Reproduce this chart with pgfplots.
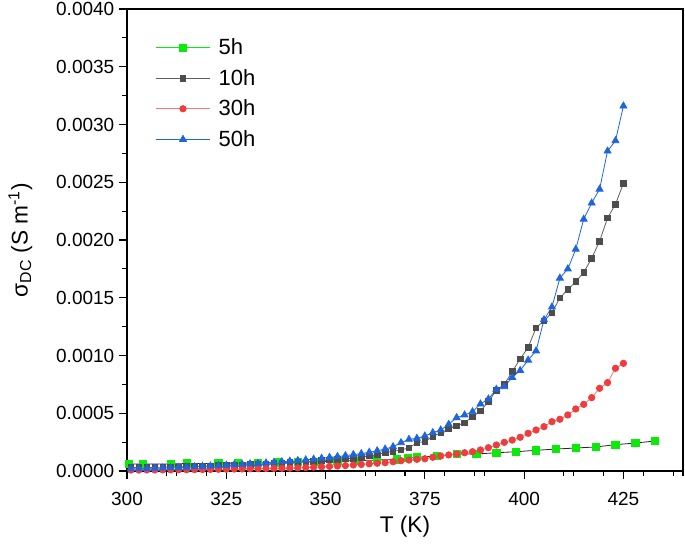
\documentclass[border=0pt]{standalone}
\usepackage{fontspec}
\setmainfont{Liberation Sans}
\usepackage{pgfplots}
\usepackage{pgfplotstable}
\pgfplotsset{compat=1.18}
\definecolor{cgreen}{RGB}{10,235,10}
\definecolor{cgray}{RGB}{77,77,77}
\definecolor{cgrayline}{RGB}{95,95,95}
\definecolor{cred}{RGB}{240,60,60}
\definecolor{credline}{RGB}{245,120,120}
\definecolor{cblue}{RGB}{30,100,220}

\pgfplotstableread{
T v
300.5 0.00006
304 0.00006
311 0.00006
315 0.000065
323 0.000065
328 0.00007
333 0.00007
338 0.000075
343 0.00008
348 0.00008
353 0.000085
358 0.00009
363 0.000095
368 0.0001
370.7 0.00011
373 0.000119
378 0.00013
383 0.000147
388 0.000147
393 0.000158
398 0.000167
403 0.000179
408 0.00019
413 0.000199
418 0.000208
423 0.000228
428 0.000242
433 0.00026
}\tabfive

\pgfplotstableread{
T v
301 0.00003
303 0.00003
305 0.00003
307 0.000032
309 0.000033
311 0.000035
313 0.000037
315 0.000038
317 0.00004
319 0.000042
321 0.000044
323 0.000046
325 0.000048
327 0.00005
329 0.000053
331 0.000055
333 0.000058
335 0.00006
337 0.000064
339 0.000068
341 0.000072
343 0.000076
345 0.00008
347 0.000085
349 0.00009
351 0.000095
353 0.0001
355 0.000106
357 0.00011
359 0.00012
361 0.00013
363 0.00014
365 0.00016
367 0.00017
369 0.000182
371 0.0002
373 0.000245
375 0.000254
377 0.0003
379 0.00033
381 0.000364
383 0.00039
385 0.000418
387 0.00047
389 0.00052
391 0.0006
393 0.0007
395 0.00075
397 0.00086
399 0.00097
401 0.00107
403 0.00124
405 0.0013
407 0.00137
409 0.0015
411 0.00157
413 0.00164
415 0.00172
417 0.00184
419 0.00199
421 0.00219
423 0.00231
425 0.00249
}\tabten

\pgfplotstableread{
T v
301 0.000008
303 0.000008
305 0.000009
307 0.000009
309 0.00001
311 0.00001
313 0.000011
315 0.000011
317 0.000012
319 0.000013
321 0.000014
323 0.000015
325 0.000016
327 0.000017
329 0.000018
331 0.00002
333 0.000021
335 0.000022
337 0.000023
339 0.000024
341 0.000025
343 0.000027
345 0.00003
347 0.000033
349 0.000036
351 0.00004
353 0.000043
355 0.000047
357 0.000052
359 0.000057
361 0.000062
363 0.000067
365 0.000072
367 0.00008
369 0.000089
371 0.000095
373 0.000101
375 0.000106
377 0.000119
379 0.00013
381 0.000139
383 0.000147
385 0.000158
387 0.000167
389 0.000182
391 0.000202
393 0.000225
395 0.000248
397 0.000268
399 0.000292
401 0.000326
403 0.000355
405 0.000384
407 0.000427
409 0.000448
411 0.000485
413 0.000537
415 0.000577
417 0.000635
419 0.000716
421 0.000765
423 0.000889
425 0.000932
}\tabthirty

\pgfplotstableread{
T v
301 0.00002
303 0.00002
305 0.000022
307 0.000024
309 0.000026
311 0.000028
313 0.00003
315 0.000033
317 0.000036
319 0.00004
321 0.000043
323 0.000046
325 0.00005
327 0.000054
329 0.000058
331 0.000062
333 0.000066
335 0.00007
337 0.000075
339 0.00008
341 0.000085
343 0.00009
345 0.000096
347 0.000102
349 0.00011
351 0.000118
353 0.000125
355 0.000133
357 0.000142
359 0.00015
361 0.000162
363 0.000175
365 0.00019
367 0.00021
369 0.000245
371 0.000274
373 0.000283
375 0.000303
377 0.000332
379 0.000355
381 0.000404
383 0.000462
385 0.000485
387 0.000513
389 0.00058
391 0.000623
393 0.000707
395 0.00073
397 0.00081
399 0.00087
401 0.00096
403 0.00104
405 0.00131
407 0.00142
409 0.00167
411 0.00175
413 0.00192
415 0.00218
417 0.00232
419 0.00244
421 0.00277
423 0.00286
425 0.00316
}\tabfifty

\begin{document}
\begin{tikzpicture}
\begin{axis}[
  scale only axis,
  width=417pt, height=346.5pt,
  at={(0,0)}, anchor=south west,
  xmin=300, xmax=440,
  ymin=0, ymax=0.004,
  xtick={300,325,350,375,400,425},
  minor xtick={310,312.5,320,330,337.5,340,360,362.5,370,380,387.5,390,410,412.5,420,430,437.5,440},
  ytick={0,0.0005,0.001,0.0015,0.002,0.0025,0.003,0.0035,0.004},
  minor ytick={0.00025,0.00075,0.00125,0.00175,0.00225,0.00275,0.00325,0.00375},
  tick align=outside,
  xtick pos=lower, ytick pos=left,
  major tick length=6pt, minor tick length=3.5pt,
  every tick/.style={black, line width=0.8pt},
  axis line style={line width=0.9pt, black},
  scaled y ticks=false,
  /pgf/number format/assume math mode=true,
  yticklabel style={/pgf/number format/.cd, fixed, fixed zerofill, precision=4},
  xticklabel style={yshift=-6.5pt},
  ticklabel style={font=\fontsize{14.25}{16}\selectfont},
  xlabel={T (K)},
  ylabel={σ\textsubscript{DC} (S m\textsuperscript{-1})},
  label style={font=\fontsize{17}{20}\selectfont},
  xlabel style={at={(rel axis cs:0.5,0)}, anchor=center, yshift=-42pt},
  ylabel style={at={(axis description cs:-0.1918,0.5)}, anchor=center},
  legend style={draw=none, fill=none, at={(rel axis cs:0,1)}, anchor=north west,
    xshift=18pt, yshift=-18pt, font=\fontsize{16.5}{18}\selectfont,
    row sep=5.5pt, legend cell align=left,
    /tikz/every odd column/.append style={column sep=4pt}},
  legend image code/.code={\draw[mark repeat=2,mark phase=2,#1] plot coordinates {(0pt,0pt) (20.5pt,0pt) (41pt,0pt)};},
]
\addlegendimage{cgreen, line width=0.6pt, mark=square*, mark size=2.7pt, mark options={draw=cgreen, fill=cgreen}}
\addlegendentry{5h}
\addlegendimage{cgrayline, line width=0.6pt, mark=square*, mark size=2.1pt, mark options={draw=cgray, fill=cgray}}
\addlegendentry{10h}
\addlegendimage{credline, line width=0.6pt, mark=*, mark size=2.4pt, mark options={draw=cred, fill=cred}}
\addlegendentry{30h}
\addlegendimage{cblue, line width=0.6pt, mark=triangle*, mark size=3pt, mark options={draw=cblue, fill=cblue}}
\addlegendentry{50h}

\addplot[forget plot, black!85, line width=0.6pt, mark=square*, mark size=2.7pt, mark options={draw=cgreen, fill=cgreen}] table[x=T,y=v] {\tabfive};
\addplot[forget plot, cgrayline, line width=0.6pt, mark=square*, mark size=2.1pt, mark options={draw=cgray, fill=cgray}] table[x=T,y=v] {\tabten};
\addplot[forget plot, credline, line width=0.6pt, mark=*, mark size=2.4pt, mark options={draw=cred, fill=cred}] table[x=T,y=v] {\tabthirty};
\addplot[forget plot, cblue, line width=0.6pt, mark=triangle*, mark size=3pt, mark options={draw=cblue, fill=cblue}] table[x=T,y=v] {\tabfifty};
\end{axis}
\pgfresetboundingbox
\path[use as bounding box] (-95.25pt,-57.75pt) rectangle (418.5pt,353.25pt);
\end{tikzpicture}
\end{document}
